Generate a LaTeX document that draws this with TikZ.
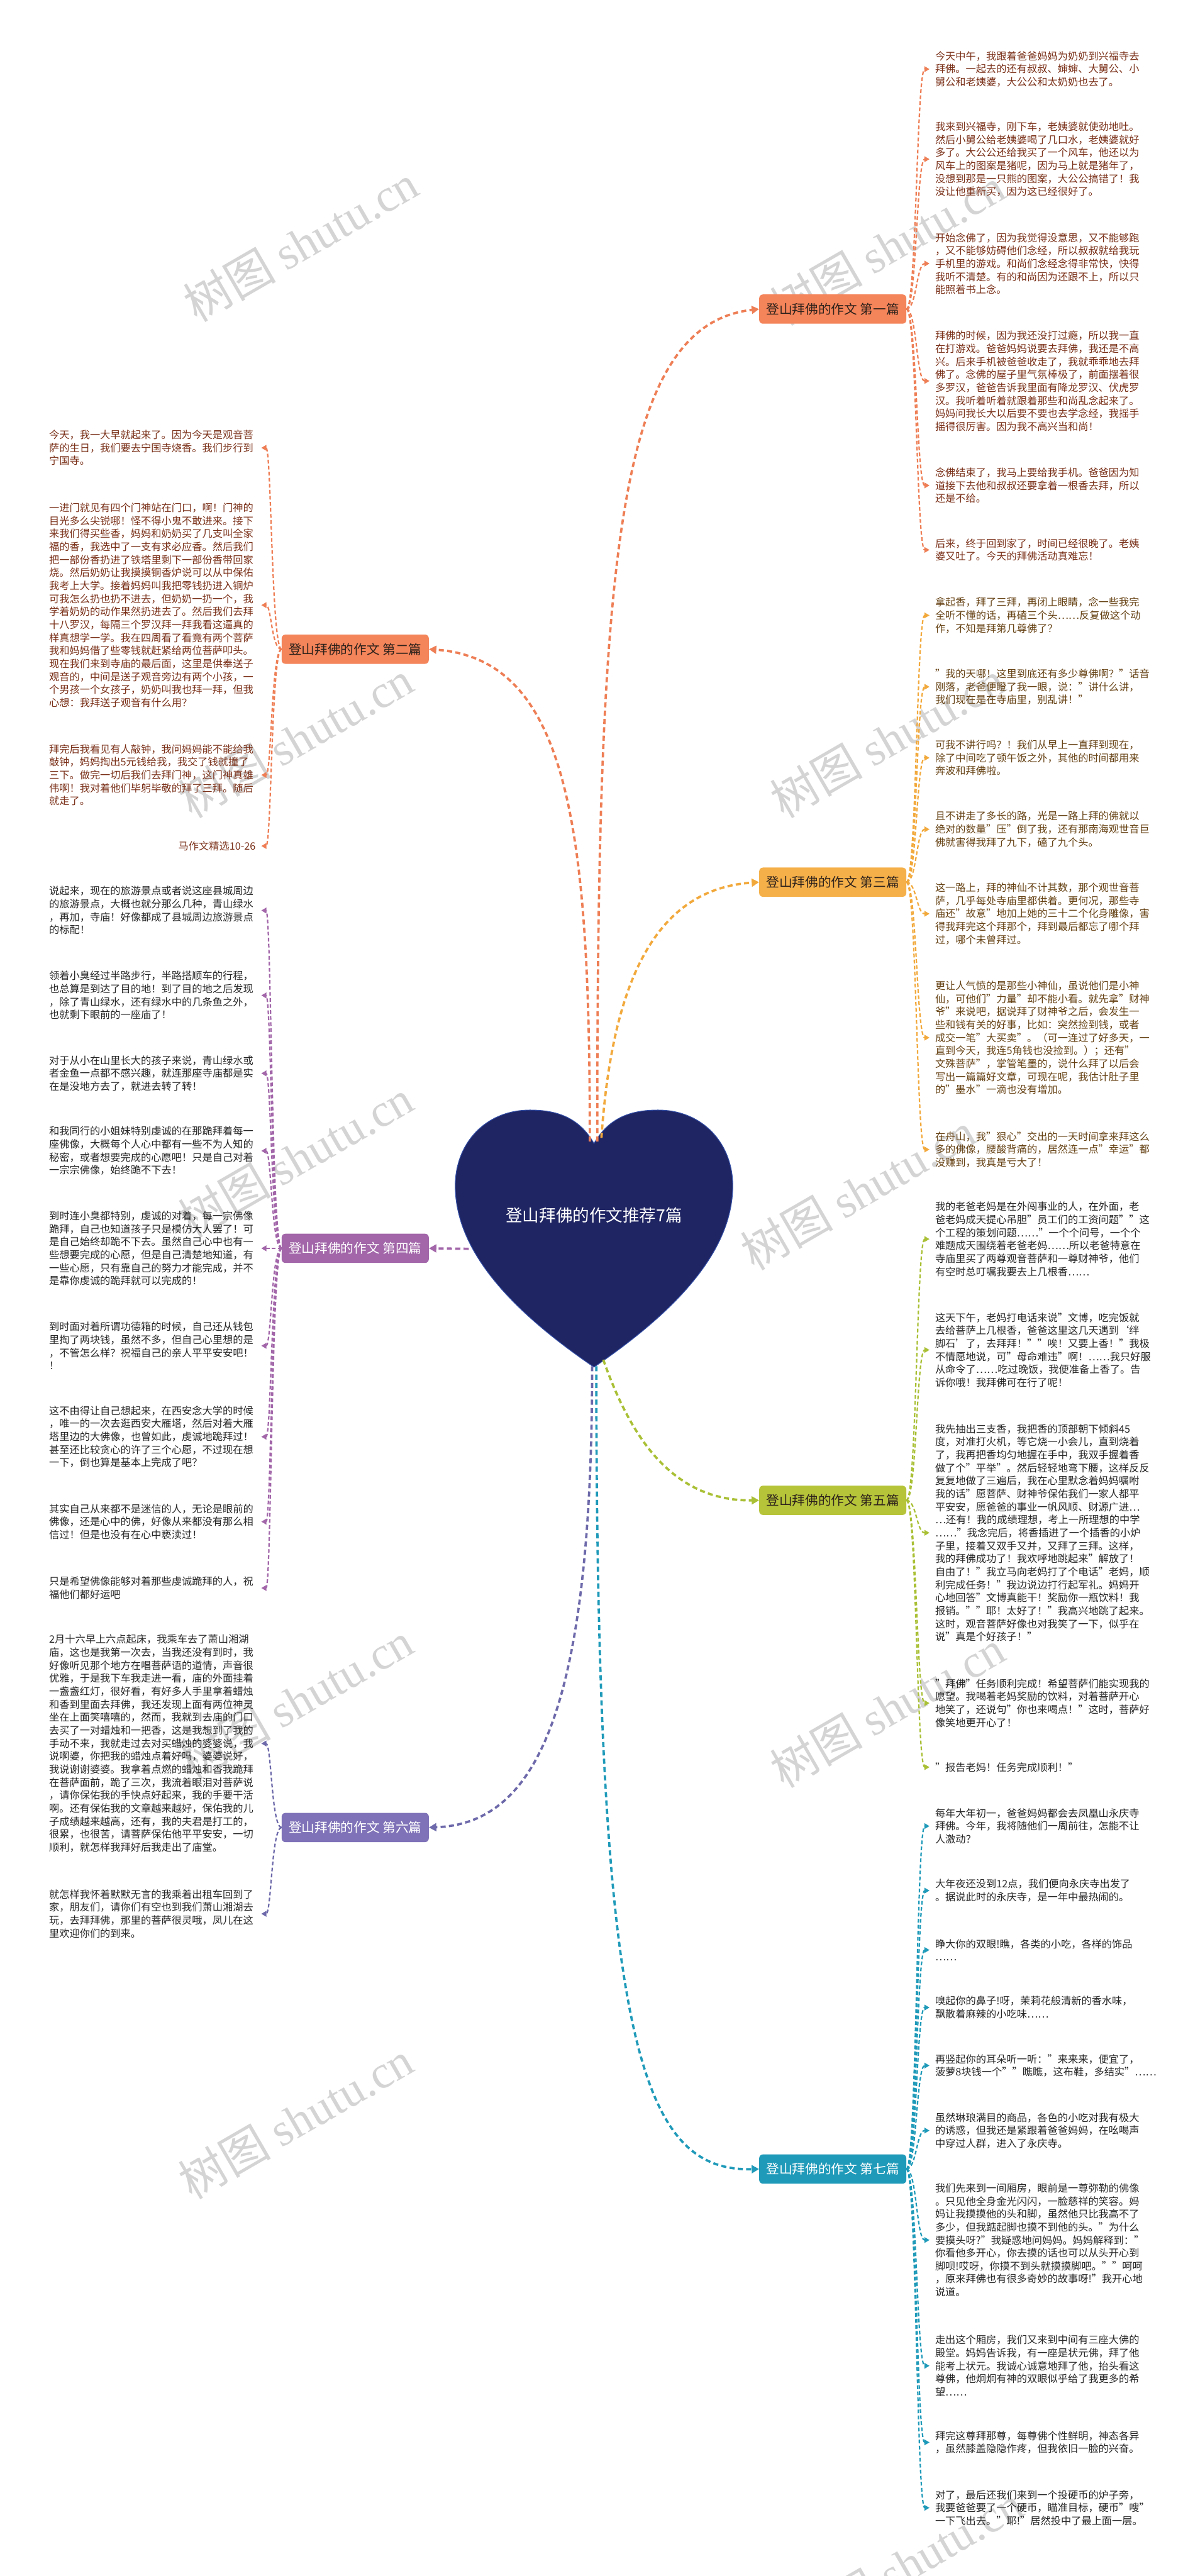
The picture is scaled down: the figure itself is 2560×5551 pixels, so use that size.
\documentclass[tikz,border=0pt]{standalone}
\usepackage{fontspec}
\setmainfont{Noto Sans CJK SC}
\newfontfamily\wmlatin{Liberation Serif}
\usetikzlibrary{arrows.meta}
\definecolor{cHeart}{HTML}{1F2563}
\definecolor{cHeartEdge}{HTML}{3450A8}
\definecolor{cA}{HTML}{F4845A}
\definecolor{cAline}{HTML}{EE7E55}
\definecolor{cAtext}{HTML}{7A3018}
\definecolor{cB}{HTML}{F5B04A}
\definecolor{cBline}{HTML}{F2A93C}
\definecolor{cBtext}{HTML}{664214}
\definecolor{cC}{HTML}{A266A9}
\definecolor{cD}{HTML}{B6C43A}
\definecolor{cDline}{HTML}{A9C035}
\definecolor{cE}{HTML}{7F72B8}
\definecolor{cEline}{HTML}{6D69AA}
\definecolor{cF}{HTML}{1F9AB9}
\definecolor{cDark}{HTML}{262626}
\definecolor{cBranchText}{HTML}{2E221B}
\definecolor{cWM}{HTML}{D4D4D4}
\begin{document}
\begin{tikzpicture}[x=1pt,y=-1pt,
  leaf/.style={inner xsep=12pt, inner ysep=2pt, text width=445pt, align=left, font=\fontsize{22}{28}\selectfont},
  leafR/.style={leaf, anchor=west},
  leafL/.style={leaf, anchor=east},
  branch/.style={rounded corners=8pt, minimum width=317pt, minimum height=63pt, inner sep=0pt, font=\fontsize{28}{32}\selectfont},
  mainconn/.style={line width=5pt, dash pattern=on 11pt off 7pt, -{Triangle[length=16pt,width=17pt]}},
  leafconn/.style={line width=3pt, dash pattern=on 8pt off 5pt, -{Triangle[length=11pt,width=12pt]}},
  wm/.style={text=cWM, rotate=30, font=\fontsize{100}{110}\selectfont}
]
\fill[white] (0,0) rectangle (2560,5551);
\useasboundingbox (0,0) rectangle (2560,5551);
% watermarks
\foreach \wx/\wy [count=\i] in {648/524, 1912/531, 637/1593, 1912/1593, 637/2496, 1849/2567, 637/3665, 1912/3682, 637/4568, 1951/5525}
  \node[wm] (wm\i) at (\wx,\wy) {树图 {\wmlatin shutu.cn}};
% heart
\fill[cHeart, draw=cHeartEdge, line width=1.5pt] (1280,2464) .. controls (1312,2408) and (1360,2392) .. (1418,2392) .. controls (1515,2392) and (1579,2465) .. (1579,2555) .. controls (1579,2700) and (1450,2830) .. (1280,2946) .. controls (1110,2830) and (981,2700) .. (981,2555) .. controls (981,2465) and (1045,2392) .. (1142,2392) .. controls (1200,2392) and (1248,2408) .. (1280,2464) -- cycle;
\node[text=white, font=\fontsize{36}{40}\selectfont] (title) at (1280,2619) {登山拜佛的作文推荐7篇};
\coordinate (h1) at (1287,2460);
\coordinate (h2) at (1271,2460);
\coordinate (h3) at (1296,2452);
\coordinate (h4) at (1010,2691);
\coordinate (h5) at (1300,2930);
\coordinate (h6) at (1276,2944);
\coordinate (h7) at (1285,2944);
% branches
\node[branch, fill=cA, text=cBranchText] (b1) at (1794.5,666) {登山拜佛的作文 第一篇};
\node[branch, fill=cA, text=cBranchText] (b2) at (765.5,1399) {登山拜佛的作文 第二篇};
\node[branch, fill=cB, text=cBranchText] (b3) at (1794.5,1901) {登山拜佛的作文 第三篇};
\node[branch, fill=cC, text=white] (b4) at (765.5,2690) {登山拜佛的作文 第四篇};
\node[branch, fill=cD, text=cBranchText] (b5) at (1794.5,3233) {登山拜佛的作文 第五篇};
\node[branch, fill=cE, text=white] (b6) at (765.5,3938) {登山拜佛的作文 第六篇};
\node[branch, fill=cF, text=white] (b7) at (1794.5,4674) {登山拜佛的作文 第七篇};
% main connectors
\draw[mainconn, cAline] (h1) .. controls (1287,1200) and (1330,700) .. (b1.west);
\draw[mainconn, cAline] (h2) .. controls (1271,1800) and (1230,1420) .. (b2.east);
\draw[mainconn, cBline] (h3) .. controls (1320,2100) and (1420,1915) .. (b3.west);
\draw[mainconn, cC] (h4) -- (b4.east);
\draw[mainconn, cDline] (h5) .. controls (1360,3100) and (1450,3235) .. (b5.west);
\draw[mainconn, cEline] (h6) .. controls (1276,3700) and (1150,3930) .. (b6.east);
\draw[mainconn, cF] (h7) .. controls (1285,4400) and (1380,4680) .. (b7.west);
% ---------- branch 1 leaves
\node[leafR, text=cAtext] (p1) at (2003,149) {今天中午，我跟着爸爸妈妈为奶奶到兴福寺去\\拜佛。一起去的还有叔叔、婶婶、大舅公、小\\舅公和老姨婆，大公公和太奶奶也去了。};
\node[leafR, text=cAtext] (p2) at (2003,343) {我来到兴福寺，刚下车，老姨婆就使劲地吐。\\然后小舅公给老姨婆喝了几口水，老姨婆就好\\多了。大公公还给我买了一个风车，他还以为\\风车上的图案是猪呢，因为马上就是猪年了，\\没想到那是一只熊的图案，大公公搞错了！我\\没让他重新买，因为这已经很好了。};
\node[leafR, text=cAtext] (p3) at (2003,568) {开始念佛了，因为我觉得没意思，又不能够跑\\，又不能够妨碍他们念经，所以叔叔就给我玩\\手机里的游戏。和尚们念经念得非常快，快得\\我听不清楚。有的和尚因为还跟不上，所以只\\能照着书上念。};
\node[leafR, text=cAtext] (p4) at (2003,821) {拜佛的时候，因为我还没打过瘾，所以我一直\\在打游戏。爸爸妈妈说要去拜佛，我还是不高\\兴。后来手机被爸爸收走了，我就乖乖地去拜\\佛了。念佛的屋子里气氛棒极了，前面摆着很\\多罗汉，爸爸告诉我里面有降龙罗汉、伏虎罗\\汉。我听着听着就跟着那些和尚乱念起来了。\\妈妈问我长大以后要不要也去学念经，我摇手\\摇得很厉害。因为我不高兴当和尚！};
\node[leafR, text=cAtext] (p5) at (2003,1046) {念佛结束了，我马上要给我手机。爸爸因为知\\道接下去他和叔叔还要拿着一根香去拜，所以\\还是不给。};
\node[leafR, text=cAtext] (p6) at (2003,1185) {后来，终于回到家了，时间已经很晚了。老姨\\婆又吐了。今天的拜佛活动真难忘！};
\foreach \n in {p1,p2,p3,p4,p5,p6}
  \draw[leafconn, cAline] (b1.east) .. controls +(22,0) and +(-28,0) .. (\n.west);
% ---------- branch 3 leaves
\node[leafR, text=cBtext] (q1) at (2003,1326) {拿起香，拜了三拜，再闭上眼睛，念一些我完\\全听不懂的话，再磕三个头……反复做这个动\\作，不知是拜第几尊佛了？};
\node[leafR, text=cBtext] (q2) at (2003,1480) {"我的天哪！这里到底还有多少尊佛啊？"话音\\刚落，老爸便瞪了我一眼，说："讲什么讲，\\我们现在是在寺庙里，别乱讲！"};
\node[leafR, text=cBtext] (q3) at (2003,1633) {可我不讲行吗？！我们从早上一直拜到现在，\\除了中间吃了顿午饭之外，其他的时间都用来\\奔波和拜佛啦。};
\node[leafR, text=cBtext] (q4) at (2003,1787) {且不讲走了多长的路，光是一路上拜的佛就以\\绝对的数量"压"倒了我，还有那南海观世音巨\\佛就害得我拜了九下，磕了九个头。};
\node[leafR, text=cBtext] (q5) at (2003,1969) {这一路上，拜的神仙不计其数，那个观世音菩\\萨，几乎每处寺庙里都供着。更何况，那些寺\\庙还"故意"地加上她的三十二个化身雕像，害\\得我拜完这个拜那个，拜到最后都忘了哪个拜\\过，哪个未曾拜过。};
\node[leafR, text=cBtext] (q6) at (2003,2236) {更让人气愤的是那些小神仙，虽说他们是小神\\仙，可他们"力量"却不能小看。就先拿"财神\\爷"来说吧，据说拜了财神爷之后，会发生一\\些和钱有关的好事，比如：突然捡到钱，或者\\成交一笔"大买卖"。（可一连过了好多天，一\\直到今天，我连5角钱也没捡到。）；还有"\\文殊菩萨"，掌管笔墨的，说什么拜了以后会\\写出一篇篇好文章，可现在呢，我估计肚子里\\的"墨水"一滴也没有增加。};
\node[leafR, text=cBtext] (q7) at (2003,2477) {在舟山，我"狠心"交出的一天时间拿来拜这么\\多的佛像，腰酸背痛的，居然连一点"幸运"都\\没赚到，我真是亏大了！};
\foreach \n in {q1,q2,q3,q4,q5,q6,q7}
  \draw[leafconn, cBline] (b3.east) .. controls +(22,0) and +(-28,0) .. (\n.west);
% ---------- branch 5 leaves
\node[leafR, text=cDark] (r1) at (2003,2670) {我的老爸老妈是在外闯事业的人，在外面，老\\爸老妈成天提心吊胆"员工们的工资问题""这\\个工程的策划问题……"一个个问号，一个个\\难题成天围绕着老爸老妈……所以老爸特意在\\寺庙里买了两尊观音菩萨和一尊财神爷，他们\\有空时总叮嘱我要去上几根香……};
\node[leafR, text=cDark] (r2) at (2003,2909) {这天下午，老妈打电话来说"文博，吃完饭就\\去给菩萨上几根香，爸爸这里这几天遇到‘绊\\脚石’了，去拜拜！""唉！又要上香！"我极\\不情愿地说，可"母命难违"啊！……我只好服\\从命令了……吃过晚饭，我便准备上香了。告\\诉你哦！我拜佛可在行了呢！};
\node[leafR, text=cDark] (r3) at (2003,3303) {我先抽出三支香，我把香的顶部朝下倾斜45\\度，对准打火机，等它烧一小会儿，直到烧着\\了，我再把香均匀地握在手中，我双手握着香\\做了个"平举"。然后轻轻地弯下腰，这样反反\\复复地做了三遍后，我在心里默念着妈妈嘱咐\\我的话"愿菩萨、财神爷保佑我们一家人都平\\平安安，愿爸爸的事业一帆风顺、财源广进…\\…还有！我的成绩理想，考上一所理想的中学\\……"我念完后，将香插进了一个插香的小炉\\子里，接着又双手又并，又拜了三拜。这样，\\我的拜佛成功了！我欢呼地跳起来"解放了！\\自由了！"我立马向老妈打了个电话"老妈，顺\\利完成任务！"我边说边打行起军礼。妈妈开\\心地回答"文博真能干！奖励你一瓶饮料！我\\报销。""耶！太好了！"我高兴地跳了起来。\\这时，观音菩萨好像也对我笑了一下，似乎在\\说"真是个好孩子！"};
\node[leafR, text=cDark] (r4) at (2003,3670) {"拜佛"任务顺利完成！希望菩萨们能实现我的\\愿望。我喝着老妈奖励的饮料，对着菩萨开心\\地笑了，还说句"你也来喝点！"这时，菩萨好\\像笑地更开心了！};
\node[leafR, text=cDark] (r5) at (2003,3808) {"报告老妈！任务完成顺利！"};
\foreach \n in {r1,r2,r3,r4,r5}
  \draw[leafconn, cDline] (b5.east) .. controls +(22,0) and +(-28,0) .. (\n.west);
% ---------- branch 7 leaves
\node[leafR, text=cDark] (s1) at (2003,3935) {每年大年初一，爸爸妈妈都会去凤凰山永庆寺\\拜佛。今年，我将随他们一周前往，怎能不让\\人激动？};
\node[leafR, text=cDark] (s2) at (2003,4074) {大年夜还没到12点，我们便向永庆寺出发了\\。据说此时的永庆寺，是一年中最热闹的。};
\node[leafR, text=cDark] (s3) at (2003,4202) {睁大你的双眼!瞧，各类的小吃，各样的饰品\\……};
\node[leafR, text=cDark] (s4) at (2003,4326) {嗅起你的鼻子!呀，茉莉花般清新的香水味，\\飘散着麻辣的小吃味……};
\node[leafR, text=cDark] (s5) at (2003,4451) {再竖起你的耳朵听一听："来来来，便宜了，\\菠萝8块钱一个""瞧瞧，这布鞋，多结实"……};
\node[leafR, text=cDark] (s6) at (2003,4591) {虽然琳琅满目的商品，各色的小吃对我有极大\\的诱惑，但我还是紧跟着爸爸妈妈，在吆喝声\\中穿过人群，进入了永庆寺。};
\node[leafR, text=cDark] (s7) at (2003,4827) {我们先来到一间厢房，眼前是一尊弥勒的佛像\\。只见他全身金光闪闪，一脸慈祥的笑容。妈\\妈让我摸摸他的头和脚，虽然他只比我高不了\\多少，但我踮起脚也摸不到他的头。"为什么\\要摸头呀?"我疑惑地问妈妈。妈妈解释到："\\你看他多开心，你去摸的话也可以从头开心到\\脚呗!哎呀，你摸不到头就摸摸脚吧。""呵呵\\，原来拜佛也有很多奇妙的故事呀!"我开心地\\说道。};
\node[leafR, text=cDark] (s8) at (2003,5098) {走出这个厢房，我们又来到中间有三座大佛的\\殿堂。妈妈告诉我，有一座是状元佛，拜了他\\能考上状元。我诚心诚意地拜了他，抬头看这\\尊佛，他炯炯有神的双眼似乎给了我更多的希\\望……};
\node[leafR, text=cDark] (s9) at (2003,5263) {拜完这尊拜那尊，每尊佛个性鲜明，神态各异\\，虽然膝盖隐隐作疼，但我依旧一脸的兴奋。};
\node[leafR, text=cDark] (s10) at (2003,5404) {对了，最后还我们来到一个投硬币的炉子旁，\\我要爸爸要了一个硬币，瞄准目标，硬币"嗖"\\一下飞出去。"耶!"居然投中了最上面一层。};
\foreach \n in {s1,s2,s3,s4,s5,s6,s7,s8,s9,s10}
  \draw[leafconn, cF] (b7.east) .. controls +(22,0) and +(-28,0) .. (\n.west);
% ---------- branch 2 leaves
\node[leafL, text=cAtext] (l1) at (563,965) {今天，我一大早就起来了。因为今天是观音菩\\萨的生日，我们要去宁国寺烧香。我们步行到\\宁国寺。};
\node[leafL, text=cAtext] (l2) at (563,1304) {一进门就见有四个门神站在门口，啊！门神的\\目光多么尖锐哪！怪不得小鬼不敢进来。接下\\来我们得买些香，妈妈和奶奶买了几支叫全家\\福的香，我选中了一支有求必应香。然后我们\\把一部份香扔进了铁塔里剩下一部份香带回家\\烧。然后奶奶让我摸摸铜香炉说可以从中保佑\\我考上大学。接着妈妈叫我把零钱扔进入铜炉\\可我怎么扔也扔不进去，但奶奶一扔一个，我\\学着奶奶的动作果然扔进去了。然后我们去拜\\十八罗汉，每隔三个罗汉拜一拜我看这逼真的\\样真想学一学。我在四周看了看竟有两个菩萨\\我和妈妈借了些零钱就赶紧给两位菩萨叩头。\\现在我们来到寺庙的最后面，这里是供奉送子\\观音的，中间是送子观音旁边有两个小孩，一\\个男孩一个女孩子，奶奶叫我也拜一拜，但我\\心想：我拜送子观音有什么用？};
\node[leafL, text=cAtext] (l3) at (563,1670) {拜完后我看见有人敲钟，我问妈妈能不能给我\\敲钟，妈妈掏出5元钱给我，我交了钱就撞了\\三下。做完一切后我们去拜门神，这门神真雄\\伟啊！我对着他们毕躬毕敬的拜了三拜。随后\\就走了。};
\node[leafL, text=cAtext, align=right] (l4) at (563,1823) {马作文精选10-26};
\foreach \n in {l1,l2,l3,l4}
  \draw[leafconn, cAline] (b2.west) .. controls +(-22,0) and +(22,0) .. (\n.east);
% ---------- branch 4 leaves
\node[leafL, text=cDark] (m1) at (563,1962) {说起来，现在的旅游景点或者说这座县城周边\\的旅游景点，大概也就分那么几种，青山绿水\\，再加，寺庙！好像都成了县城周边旅游景点\\的标配！};
\node[leafL, text=cDark] (m2) at (563,2145) {领着小臭经过半路步行，半路搭顺车的行程，\\也总算是到达了目的地！到了目的地之后发现\\，除了青山绿水，还有绿水中的几条鱼之外，\\也就剩下眼前的一座庙了！};
\node[leafL, text=cDark] (m3) at (563,2313) {对于从小在山里长大的孩子来说，青山绿水或\\者金鱼一点都不感兴趣，就连那座寺庙都是实\\在是没地方去了，就进去转了转！};
\node[leafL, text=cDark] (m4) at (563,2480) {和我同行的小姐妹特别虔诚的在那跪拜着每一\\座佛像，大概每个人心中都有一些不为人知的\\秘密，或者想要完成的心愿吧！只是自己对着\\一宗宗佛像，始终跪不下去！};
\node[leafL, text=cDark] (m5) at (563,2690) {到时连小臭都特别，虔诚的对着，每一宗佛像\\跪拜，自己也知道孩子只是模仿大人罢了！可\\是自己始终却跪不下去。虽然自己心中也有一\\些想要完成的心愿，但是自己清楚地知道，有\\一些心愿，只有靠自己的努力才能完成，并不\\是靠你虔诚的跪拜就可以完成的！};
\node[leafL, text=cDark] (m6) at (563,2900) {到时面对着所谓功德箱的时候，自己还从钱包\\里掏了两块钱，虽然不多，但自己心里想的是\\，不管怎么样？祝福自己的亲人平平安安吧！\\！};
\node[leafL, text=cDark] (m7) at (563,3096) {这不由得让自己想起来，在西安念大学的时候\\，唯一的一次去逛西安大雁塔，然后对着大雁\\塔里边的大佛像，也曾如此，虔诚地跪拜过！\\甚至还比较贪心的许了三个心愿，不过现在想\\一下，倒也算是基本上完成了吧？};
\node[leafL, text=cDark] (m8) at (563,3279) {其实自己从来都不是迷信的人，无论是眼前的\\佛像，还是心中的佛，好像从来都没有那么相\\信过！但是也没有在心中亵渎过！};
\node[leafL, text=cDark] (m9) at (563,3422) {只是希望佛像能够对着那些虔诚跪拜的人，祝\\福他们都好运吧};
\foreach \n in {m1,m2,m3,m4,m5,m6,m7,m8,m9}
  \draw[leafconn, cC] (b4.west) .. controls +(-22,0) and +(22,0) .. (\n.east);
% ---------- branch 6 leaves
\node[leafL, text=cDark] (n1) at (563,3757) {2月十六早上六点起床，我乘车去了萧山湘湖\\庙，这也是我第一次去，当我还没有到时，我\\好像听见那个地方在唱菩萨语的道情，声音很\\优雅，于是我下车我走进一看，庙的外面挂着\\一盏盏红灯，很好看，有好多人手里拿着蜡烛\\和香到里面去拜佛，我还发现上面有两位神灵\\坐在上面笑嘻嘻的，然而，我就到去庙的门口\\去买了一对蜡烛和一把香，这是我想到了我的\\手动不来，我就走过去对买蜡烛的婆婆说，我\\说啊婆，你把我的蜡烛点着好吗，婆婆说好，\\我说谢谢婆婆。我拿着点燃的蜡烛和香我跪拜\\在菩萨面前，跪了三次，我流着眼泪对菩萨说\\，请你保佑我的手快点好起来，我的手要干活\\啊。还有保佑我的文章越来越好，保佑我的儿\\子成绩越来越高，还有，我的夫君是打工的，\\很累，也很苦，请菩萨保佑他平平安安，一切\\顺利，就怎样我拜好后我走出了庙堂。};
\node[leafL, text=cDark] (n2) at (563,4124) {就怎样我怀着默默无言的我乘着出租车回到了\\家，朋友们，请你们有空也到我们萧山湘湖去\\玩，去拜拜佛，那里的菩萨很灵哦，凤儿在这\\里欢迎你们的到来。};
\foreach \n in {n1,n2}
  \draw[leafconn, cEline] (b6.west) .. controls +(-22,0) and +(22,0) .. (\n.east);
\end{tikzpicture}
\end{document}
